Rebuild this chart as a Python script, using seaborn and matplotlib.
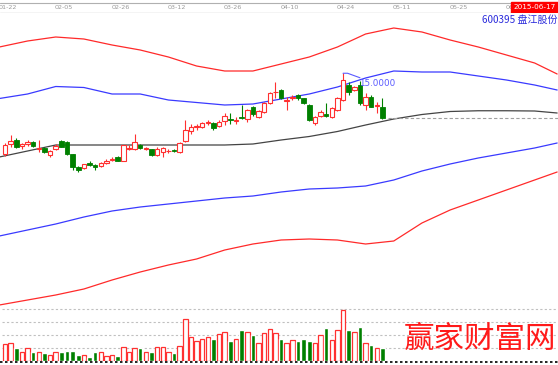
import numpy as np
import pandas as pd
import matplotlib
matplotlib.use('Agg')
import matplotlib.pyplot as plt
import seaborn as sns
from matplotlib.patches import Rectangle

# 日K线 (开盘, 收盘, 最高, 最低), 2015-01-22 起
opens = [11.77, 12.17, 12.35, 12.09, 12.19, 12.26, 11.99, 11.99, 11.73, 11.97,
         12.31, 12.25, 11.77, 11.25, 11.20, 11.41, 11.35, 11.31, 11.43, 11.53,
         11.66, 11.51, 11.99, 11.97, 12.15, 11.98, 11.97, 11.75, 11.87, 11.89,
         11.94, 11.86, 12.29, 12.71, 12.85, 12.87, 13.03, 13.03, 12.89, 13.11,
         13.17, 13.11, 13.23, 13.16, 13.66, 13.26, 13.46, 13.80, 14.25, 14.33,
         13.91, 14.01, 14.13, 14.00, 13.73, 13.00, 13.29, 13.35, 13.26, 13.53,
         13.93, 14.53, 14.33, 14.53, 13.73, 14.04, 13.71, 13.66]
closes = [12.13, 12.29, 12.07, 12.19, 12.23, 12.10, 12.03, 11.87, 11.89, 12.11,
          12.07, 11.77, 11.24, 11.13, 11.37, 11.35, 11.27, 11.41, 11.51, 11.59,
          11.51, 12.13, 12.03, 12.25, 12.01, 12.01, 11.75, 11.99, 12.00, 11.91,
          11.91, 12.21, 12.71, 12.87, 12.88, 13.01, 13.06, 12.83, 13.07, 13.29,
          13.14, 13.14, 13.20, 13.53, 13.36, 13.49, 13.82, 14.20, 14.27, 14.00,
          13.95, 14.05, 14.00, 13.80, 13.13, 13.26, 13.46, 13.29, 13.60, 14.00,
          14.73, 14.26, 14.46, 13.80, 14.04, 13.66, 13.75, 13.20]
highs = [12.21, 12.53, 12.41, 12.23, 12.33, 12.29, 12.33, 12.07, 11.93, 12.17,
         12.35, 12.29, 11.79, 11.29, 11.39, 11.49, 11.37, 11.47, 11.57, 11.65,
         11.71, 12.15, 12.13, 12.59, 12.19, 12.07, 11.99, 12.05, 12.05, 11.97,
         11.99, 12.25, 13.13, 12.99, 12.99, 13.05, 13.15, 13.07, 13.13, 13.41,
         13.41, 13.26, 13.73, 13.56, 13.71, 13.53, 13.87, 14.26, 14.66, 14.37,
         14.06, 14.13, 14.17, 14.03, 13.77, 13.31, 13.53, 13.80, 13.65, 14.05,
         15.00, 14.66, 14.51, 14.69, 14.20, 14.13, 13.85, 14.00]
lows = [11.69, 12.07, 12.03, 11.99, 12.11, 12.05, 11.87, 11.81, 11.67, 11.93,
        12.05, 11.75, 11.15, 11.05, 11.19, 11.29, 11.13, 11.27, 11.39, 11.49,
        11.49, 11.49, 11.93, 11.95, 11.97, 11.93, 11.69, 11.69, 11.65, 11.81,
        11.85, 11.83, 12.27, 12.59, 12.73, 12.83, 12.93, 12.73, 12.85, 12.93,
        12.97, 12.97, 13.19, 13.06, 13.29, 13.21, 13.41, 13.77, 14.00, 13.97,
        13.53, 13.93, 13.95, 13.77, 13.09, 12.95, 13.25, 13.26, 13.23, 13.49,
        13.89, 14.13, 14.29, 13.73, 13.53, 13.65, 13.41, 13.16]
# 成交量(万手)
volumes = [6.5, 6.8, 4.9, 3.6, 4.9, 3.3, 3.6, 3.0, 2.3, 3.6,
           3.6, 4.0, 4.0, 2.3, 2.3, 1.7, 3.3, 3.3, 2.0, 2.3,
           2.0, 5.5, 3.6, 5.1, 4.9, 3.6, 3.6, 5.3, 5.3, 3.6,
           3.0, 5.9, 16.1, 9.4, 7.8, 8.4, 9.4, 8.5, 10.3, 11.3,
           7.8, 8.5, 11.9, 11.3, 10.0, 6.8, 10.7, 12.2, 10.9, 8.5,
           7.0, 8.1, 7.8, 8.5, 7.8, 6.8, 10.0, 12.6, 8.1, 11.9,
           19.6, 11.9, 11.0, 13.2, 6.8, 6.2, 5.1, 5.1]

# 通道线 (按交易日序号取样, 延伸到未来)
band_x = [-1, 4, 9, 14, 19, 24, 29, 34, 39, 44, 49, 54, 59, 64, 69, 74, 79, 84, 89, 94, 98]
outer_upper = [16.05, 16.29, 16.45, 16.37, 16.13, 15.93, 15.65, 15.29, 15.09, 15.09, 15.37,
               15.65, 16.05, 16.57, 16.81, 16.65, 16.33, 16.05, 15.73, 15.41, 14.97]
inner_upper = [13.99, 14.17, 14.47, 14.43, 14.17, 14.17, 13.93, 13.83, 13.73, 13.77, 13.97,
               14.17, 14.45, 14.81, 15.09, 15.05, 15.05, 14.89, 14.73, 14.53, 14.33]
middle = [11.65, 11.89, 12.13, 12.13, 12.13, 12.13, 12.13, 12.13, 12.13, 12.17, 12.33,
          12.47, 12.67, 12.93, 13.17, 13.35, 13.47, 13.50, 13.50, 13.49, 13.41]
inner_lower = [8.49, 8.73, 8.97, 9.25, 9.49, 9.65, 9.77, 9.89, 10.01, 10.09, 10.25,
               10.37, 10.41, 10.49, 10.73, 11.09, 11.37, 11.61, 11.81, 12.01, 12.21]
outer_lower = [5.73, 5.93, 6.13, 6.37, 6.73, 7.05, 7.33, 7.57, 7.93, 8.17, 8.33,
               8.37, 8.33, 8.17, 8.29, 9.01, 9.53, 9.93, 10.33, 10.73, 11.05]

date_pos = [0, 10, 20, 30, 40, 50, 60, 70, 80, 90]
date_labels = ['01-22', '02-05', '02-26', '03-12', '03-26', '04-10', '04-24', '05-11', '05-25', '06-08']

UP = '#ff3030'
DOWN = '#008000'

sns.set_style('white')
plt.rcParams['font.family'] = ['Noto Sans CJK SC', 'DejaVu Sans']

fig = plt.figure(figsize=(5.58, 3.65), dpi=100)
W, H = 558, 365


def px_axes(top, bottom):
    # 按像素位置建立坐标轴
    return fig.add_axes([0, (H - bottom) / H, 1, (bottom - top) / H])


xlim = (-0.89, 98.15)
ax_d = px_axes(0, 13)
ax_p = px_axes(13, 307)
ax_v = px_axes(307, 361)
for ax in (ax_d, ax_p, ax_v):
    ax.axis('off')

# 价格区: 通道线
for vals, col in [(outer_upper, '#ff2a2a'), (inner_upper, '#3a3aff'), (middle, '#444444'),
                  (inner_lower, '#3a3aff'), (outer_lower, '#ff2a2a')]:
    sns.lineplot(x=band_x, y=vals, ax=ax_p, color=col, lw=0.9, legend=False)

# K线
n = len(opens)
bw = 0.8
for i in range(n):
    o, c, h, l = opens[i], closes[i], highs[i], lows[i]
    if c >= o:
        top, bot = c, o
        ax_p.vlines(i, top, h, color=UP, lw=0.8, zorder=3)
        ax_p.vlines(i, l, bot, color=UP, lw=0.8, zorder=3)
        ax_p.add_patch(Rectangle((i - bw / 2, bot), bw, max(top - bot, 0.01),
                                 facecolor='white', edgecolor=UP, lw=0.8, zorder=4))
    else:
        ax_p.vlines(i, l, h, color=DOWN, lw=0.8, zorder=3)
        ax_p.add_patch(Rectangle((i - bw / 2, c), bw, max(o - c, 0.01),
                                 facecolor=DOWN, edgecolor=DOWN, lw=0.6, zorder=4))

# 最新收盘价虚线
ax_p.hlines(closes[-1], n, xlim[1], color='#a0a0a0', lw=0.8, linestyles=(0, (3, 2)))

# 最高价标注
imax = int(np.argmax(highs))
ax_p.plot([imax, imax + 0.8, imax + 3.0], [highs[imax], highs[imax], highs[imax] - 0.18],
          color='#5a5aff', lw=0.8, zorder=5)
ax_p.text(imax + 2.8, highs[imax] - 0.43, f'{highs[imax]:.4f}', fontsize=6.3,
          color='#5a5aff', va='center', ha='left', family='DejaVu Sans', zorder=6)
ax_p.set_xlim(*xlim)
ax_p.set_ylim(5.65, 17.41)

fig.text(557 / W, 1 - 19.5 / H, '600395 盘江股份', ha='right', va='center',
         fontsize=7.2, color='#2b2bdc')

# 顶部日期条
ax_d.set_xlim(*xlim)
ax_d.set_ylim(13, 0)
ax_d.axhline(2.7, color='#b0b0b0', lw=0.8)
ax_d.axhline(12.7, color='#c8c8c8', lw=1.0)
for p, lab in zip(date_pos, date_labels):
    ax_d.text(p + 0.5, 7.5, lab, ha='center', va='center', fontsize=4.6,
              color='#9a9a9a', family='DejaVu Sans')
ax_d.add_patch(Rectangle((89.8, 1.7), 8.4, 11, color='#ff0000', zorder=5))
ax_d.text(94.0, 7.2, '2015-06-17', ha='center', va='center', fontsize=5.2,
          color='white', family='DejaVu Sans', zorder=6)

# 成交量区
ax_v.set_xlim(*xlim)
ax_v.set_ylim(0, 20.79)
for g in [5, 10, 15, 20]:
    ax_v.axhline(g, color='#c0c0c0', lw=0.8, ls=(0, (2, 2)), xmin=0.004)
for i in range(n):
    up = closes[i] >= opens[i]
    if up:
        ax_v.bar(i, volumes[i], width=bw, facecolor='white', edgecolor=UP, lw=0.9, zorder=3)
    else:
        ax_v.bar(i, volumes[i], width=bw, color=DOWN, zorder=3)
ax_v.axhline(0, color='#909090', lw=0.6, zorder=4)
ax_v.axhline(-0.2, color='black', lw=1.2, ls=(0, (1.5, 1.5)), clip_on=False, zorder=4)

# 水印
fig.text(480 / W, 1 - 339 / H, '赢家财富网', ha='center', va='center', fontsize=22,
         color='#ff1a1a', fontweight='light')

fig.savefig('out.png', dpi=100)
